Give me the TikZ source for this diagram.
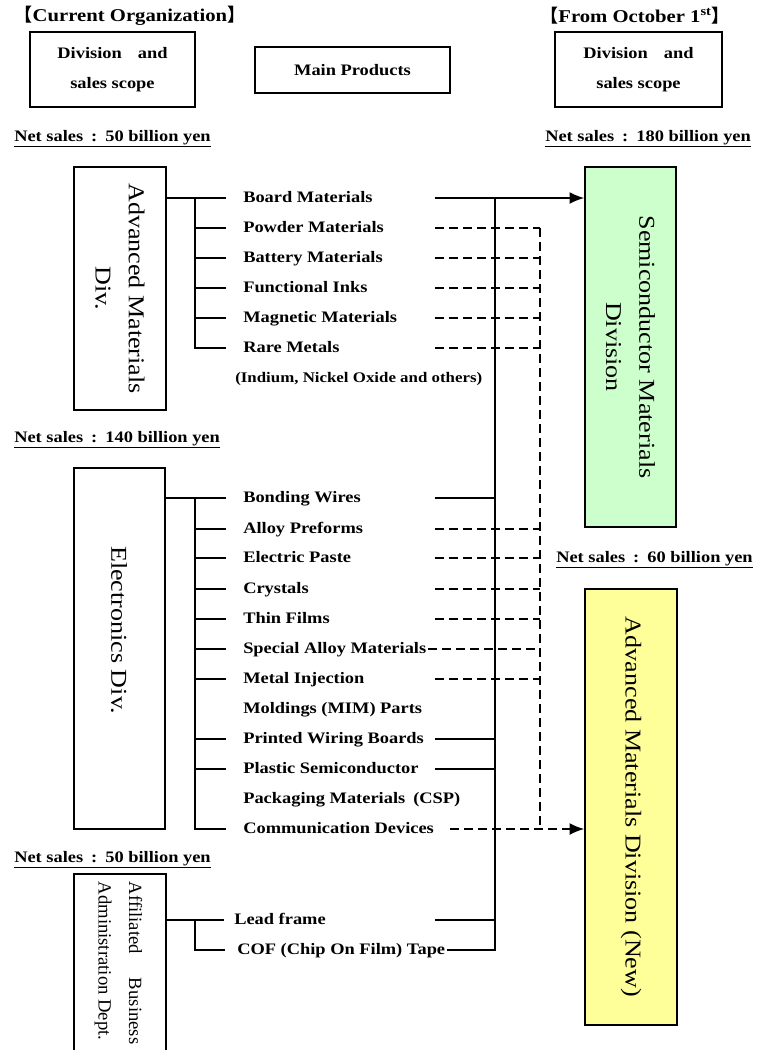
\documentclass[tikz,border=0pt]{standalone}
\usepackage{fontspec}
\setmainfont[FakeStretch=1.15]{Liberation Serif}
\newfontfamily\plainserif{Liberation Serif}
\newfontfamily\cjk{Noto Sans CJK JP}
\usetikzlibrary{arrows.meta,calc}
\definecolor{semig}{HTML}{CCFFCC}
\definecolor{amy}{HTML}{FFFF99}
\begin{document}
\begin{tikzpicture}[x=0.75pt,y=-0.75pt,
  line/.style={line width=1.2pt},
  dline/.style={line width=1.2pt, dash pattern=on 6.75pt off 3.75pt},
  box/.style={draw, line width=1.2pt, inner sep=0pt},
  prod/.style={anchor=west, inner sep=0pt, font=\bfseries\fontsize{12}{14}\selectfont, text height=8.5pt, text depth=2.5pt},
  ns/.style={anchor=base west, inner sep=0pt, font=\bfseries\fontsize{12}{14}\selectfont},
  title/.style={inner sep=0pt, font=\bfseries\fontsize{13.5}{15}\selectfont},
  rot/.style={rotate=-90, align=center, inner sep=0pt, font=\fontsize{17}{25}\selectfont},
  arrowto/.style={-{Latex[length=11pt,width=9pt]}}
]
\useasboundingbox (0,0) rectangle (766,1050);
% titles
\node[title] (t1) at (130,16) {{\cjk 【}Current Organization{\cjk 】}};
\node[title] (t2) at (635,16) {{\cjk 【}From October 1\textsuperscript{st}{\cjk 】}};
% header boxes
\node[box, minimum width=123.75pt, minimum height=56.25pt, align=center, font=\bfseries\fontsize{12}{22.5}\selectfont] (hdL) at (112.5,69.5) {Division\quad and\\sales scope};
\node[box, minimum width=146.25pt, minimum height=34.5pt, font=\bfseries\fontsize{12}{14}\selectfont] (hdM) at (352.5,70) {Main Products};
\node[box, minimum width=125.25pt, minimum height=56.25pt, align=center, font=\bfseries\fontsize{12}{22.5}\selectfont] (hdR) at (638.5,69.5) {Division\quad and\\sales scope};
% net sales
\node[ns] (ns1) at (14,141) {\underline{Net sales\enspace:\enspace 50 billion yen}};
\node[ns] (ns2) at (545,141) {\underline{Net sales\enspace:\enspace 180 billion yen}};
\node[ns] (ns3) at (14,442) {\underline{Net sales\enspace:\enspace 140 billion yen}};
\node[ns] (ns4) at (556,562) {\underline{Net sales\enspace:\enspace 60 billion yen}};
\node[ns] (ns5) at (14,862) {\underline{Net sales\enspace:\enspace 50 billion yen}};
% division boxes
\node[box, rot, minimum width=182.25pt, minimum height=69pt] (amd) at (120,288.5) {Advanced Materials\\Div.};
\node[box, rot, fill=semig, minimum width=270pt, minimum height=68.25pt] (semi) at (630.5,347) {Semiconductor Materials\\Division};
\node[box, minimum width=68.25pt, minimum height=270.75pt] (elec) at (119.5,648.5) {};
\node[rot] (elect) at (119,630) {Electronics Div.};
\node[box, rot, fill=amy, minimum width=327pt, minimum height=69pt] (amn) at (631,807) {Advanced Materials Division (New)};
\node[box, minimum width=69pt, minimum height=138pt] (aff) at (120,966) {};
\node[rotate=-90, align=left, inner sep=0pt, font=\plainserif\fontsize{14}{23}\selectfont] (afft) at (118.5,963) {\makebox[122pt][s]{Affiliated\hfill Business}\\Administration Dept.};
% products
\node[prod] (board) at (243,198) {Board Materials};
\node[prod] (powder) at (243,228) {Powder Materials};
\node[prod] (battery) at (243,258) {Battery Materials};
\node[prod] (func) at (243,288) {Functional Inks};
\node[prod] (magnetic) at (243,318) {Magnetic Materials};
\node[prod] (rare) at (243,348) {Rare Metals};
\node[prod, font=\bfseries\fontsize{11}{13}\selectfont] (indium) at (235,378) {(Indium, Nickel Oxide and others)};
\node[prod] (bonding) at (243,498) {Bonding Wires};
\node[prod] (alloy) at (243,529) {Alloy Preforms};
\node[prod] (paste) at (243,558) {Electric Paste};
\node[prod] (crystals) at (243,589) {Crystals};
\node[prod] (thin) at (243,619) {Thin Films};
\node[prod] (special) at (243,649) {Special Alloy Materials};
\node[prod] (metal) at (243,679) {Metal Injection};
\node[prod] (moldings) at (243,709) {Moldings (MIM) Parts};
\node[prod] (printed) at (243,739) {Printed Wiring Boards};
\node[prod] (plastic) at (243,769) {Plastic Semiconductor};
\node[prod] (packaging) at (243,799) {Packaging Materials\enspace(CSP)};
\node[prod] (comm) at (243,829) {Communication Devices};
\node[prod] (lead) at (234,920) {Lead frame};
\node[prod] (cof) at (237,950) {COF (Chip On Film) Tape};
% bus coordinates
\coordinate (lb) at (195,0);
\coordinate (rb) at (495,0);
\coordinate (db) at (540,0);
\coordinate (rs) at (435,0);
\coordinate (cs) at (450,0);
% left trees
\draw[line] (amd.north |- board) -- ($(board.west)+(-17,0)$);
\draw[line] (lb |- board) -- (lb |- rare) -- ($(rare.west)+(-17,0)$);
\foreach \n in {powder,battery,func,magnetic}
  \draw[line] (lb |- \n) -- ($(\n.west)+(-17,0)$);
\draw[line] (elec.east |- bonding) -- ($(bonding.west)+(-17,0)$);
\draw[line] (lb |- bonding) -- (lb |- comm) -- ($(comm.west)+(-17,0)$);
\foreach \n in {alloy,paste,crystals,thin,special,metal,printed,plastic}
  \draw[line] (lb |- \n) -- ($(\n.west)+(-17,0)$);
\draw[line] (aff.east |- lead) -- ($(lead.west)+(-10,0)$);
\draw[line] (lb |- lead) -- (lb |- cof) -- ($(cof.west)+(-12,0)$);
% right side solid
\draw[line, arrowto] (rs |- board) -- (semi.south |- board);
\draw[line] (rb |- board) -- (rb |- cof) -- ($(cof.east)+(2,0)$);
\foreach \n in {bonding,printed,plastic,lead}
  \draw[line] (rs |- \n) -- (rb |- \n);
% right side dashed
\foreach \n in {powder,battery,func,magnetic,rare,alloy,paste,crystals,thin,metal}
  \draw[dline] (rs |- \n) -- (db |- \n);
\draw[dline] ($(special.east)+(2,0)$) -- (db |- special);
\draw[dline] (db |- powder) -- (db |- comm);
\draw[dline, arrowto] (cs |- comm) -- (amn.south |- comm);
\end{tikzpicture}
\end{document}
